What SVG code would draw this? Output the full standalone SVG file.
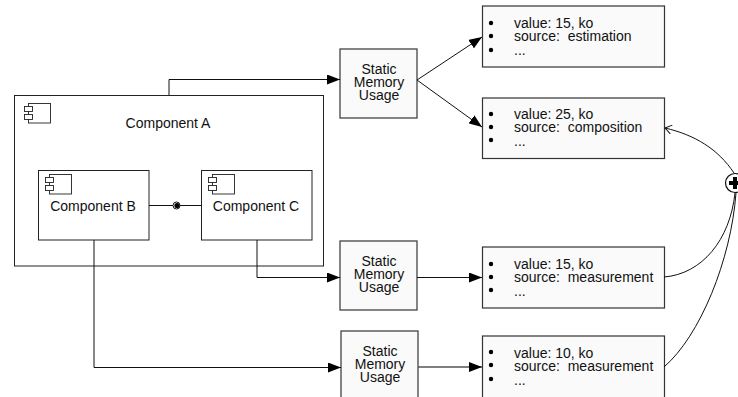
<svg xmlns="http://www.w3.org/2000/svg" width="738" height="397" viewBox="0 0 738 397">
<style>
text{font-family:"Liberation Sans",Arial,sans-serif;font-size:14px;fill:#111;white-space:pre}
.m{text-anchor:middle}
.box{fill:#fff;stroke:#222;stroke-width:1}
.fill{fill:#fafafa;stroke:#333;stroke-width:1.2}
.sm{fill:#fafafa;stroke:#444;stroke-width:1.3}
.c{fill:none;stroke:#111;stroke-width:1}
.d{fill:#000}
.ic{fill:#fff;stroke:#222;stroke-width:.9}
</style>
<defs>
<marker id="a" viewBox="0 0 13 10" refX="13" refY="5" markerWidth="13" markerHeight="10" markerUnits="userSpaceOnUse" orient="auto"><path d="M0 0L13 5L0 10Z" fill="#000"/></marker>
<marker id="o" viewBox="0 0 8 10" refX="7.500" refY="5" markerWidth="8" markerHeight="10" markerUnits="userSpaceOnUse" orient="auto"><path d="M1 .5L7.500 5L1 9.500" fill="none" stroke="#111"/></marker>
<g id="icon"><rect class="ic" x="4.500" y="0.500" width="22" height="19.500"/><rect class="ic" x="0.500" y="3.500" width="8" height="5"/><rect class="ic" x="0.500" y="11.500" width="8" height="5"/></g>
<g id="bul"><circle class="d" cx="0" cy="0" r="2.200"/></g>
</defs>

<g id="component-a"><rect class="box" x="14.500" y="95.500" width="309" height="170.500"/><use href="#icon" x="24" y="103"/><text class="m" x="168" y="128">Component A</text></g>
<g id="component-b"><rect class="box" x="38.500" y="170.500" width="110.500" height="69.500"/><use href="#icon" x="45" y="174"/><text class="m" x="93" y="211">Component B</text></g>
<g id="component-c"><rect class="box" x="201.500" y="170.500" width="110.500" height="69.500"/><use href="#icon" x="208" y="174"/><text class="m" x="256" y="211">Component C</text></g>

<g id="smu-1"><rect class="sm" x="340" y="49" width="77" height="69"/><text class="m" x="379" y="74">Static<tspan x="379" dy="13">Memory</tspan><tspan x="379" dy="13">Usage</tspan></text></g>
<g id="smu-2"><rect class="sm" x="340" y="241" width="77" height="69"/><text class="m" x="379" y="266">Static<tspan x="379" dy="13">Memory</tspan><tspan x="379" dy="13">Usage</tspan></text></g>
<g id="smu-3"><rect class="sm" x="341" y="331" width="77" height="70"/><text class="m" x="380" y="356">Static<tspan x="380" dy="13">Memory</tspan><tspan x="380" dy="13">Usage</tspan></text></g>

<g id="value-1"><rect class="fill" x="482.500" y="6" width="182" height="61"/><use href="#bul" x="491" y="23"/><use href="#bul" x="491" y="36"/><use href="#bul" x="491" y="50"/><text x="514" y="28">value: 15, ko<tspan x="514" dy="13">source:  estimation</tspan><tspan x="514" dy="14">...</tspan></text></g>
<g id="value-2"><rect class="fill" x="482.500" y="98" width="182" height="60.500"/><use href="#bul" x="491" y="114"/><use href="#bul" x="491" y="127"/><use href="#bul" x="491" y="140"/><text x="514" y="119">value: 25, ko<tspan x="514" dy="13">source:  composition</tspan><tspan x="514" dy="14">...</tspan></text></g>
<g id="value-3"><rect class="fill" x="482.500" y="247" width="182" height="61"/><use href="#bul" x="491" y="264"/><use href="#bul" x="491" y="277"/><use href="#bul" x="491" y="290"/><text x="514" y="269">value: 15, ko<tspan x="514" dy="13">source:  measurement</tspan><tspan x="514" dy="14">...</tspan></text></g>
<g id="value-4"><rect class="fill" x="482.500" y="336" width="182" height="65"/><use href="#bul" x="491" y="352"/><use href="#bul" x="491" y="365"/><use href="#bul" x="491" y="379"/><text x="514" y="358">value: 10, ko<tspan x="514" dy="13">source:  measurement</tspan><tspan x="514" dy="14">...</tspan></text></g>

<g id="connectors">
<path class="c" d="M169 95V79.500H340" marker-end="url(#a)"/>
<path class="c" d="M417 80L482 37" marker-end="url(#a)"/>
<path class="c" d="M417 80L482 127" marker-end="url(#a)"/>
<path class="c" d="M149 205.500H201.500"/>
<circle cx="176.500" cy="205.500" r="3.500" fill="#fff" stroke="#111"/><circle class="d" cx="177" cy="205.500" r="2.600"/>
<path class="c" d="M257 240V277.500H340" marker-end="url(#a)"/>
<path class="c" d="M94 240V367.500H341" marker-end="url(#a)"/>
<path class="c" d="M417 277.500H482" marker-end="url(#a)"/>
<path d="M418 367H482" fill="none" stroke="#555" stroke-width="1.300" marker-end="url(#a)"/>
<path class="c" d="M664 277C702 274 730 240 735 193"/>
<path class="c" d="M664 367C700 336 731 260 736 193"/>
<path class="c" d="M734 173C718 149 695 135 665 128" marker-end="url(#o)"/>
</g>
<g id="plus"><circle cx="735" cy="183" r="9.500" fill="#fff" stroke="#111" stroke-width="1.200"/><path d="M735 177V189M729 183H741" stroke="#000" stroke-width="4" fill="none"/></g>
</svg>
